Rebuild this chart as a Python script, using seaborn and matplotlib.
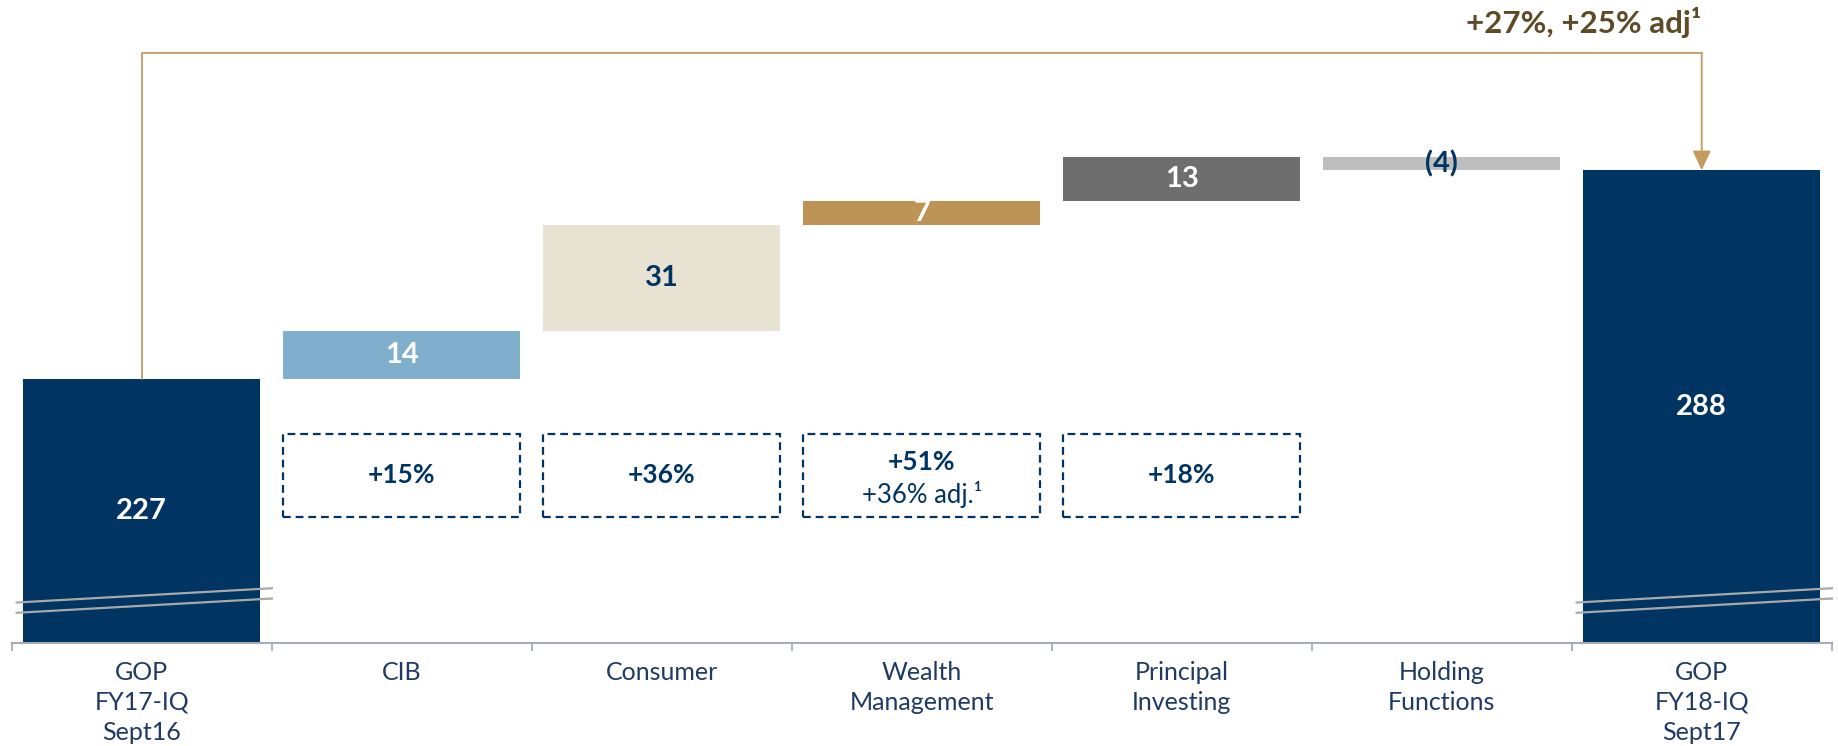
import numpy as np
import pandas as pd
import matplotlib
matplotlib.use("Agg")
import matplotlib.pyplot as plt
from matplotlib.patches import Rectangle
import seaborn as sns

# data
categories = ["GOP\nFY17-IQ\nSept16", "CIB", "Consumer", "Wealth\nManagement",
              "Principal\nInvesting", "Holding\nFunctions", "GOP\nFY18-IQ\nSept17"]
start_total = 227
changes = [14, 31, 7, 13, -4]
end_total = 288
growth_categories = ["CIB", "Consumer", "Wealth\nManagement", "Principal\nInvesting"]
growth_labels = ["+15%", "+36%", "+51%", "+18%"]
growth_notes = ["", "", "+36% adj.\u00b9", ""]
headline = "+27%, +25% adj\u00b9"

# colours
navy = "#003462"
bar_colors = [navy, "#7FAFCD", "#E7E2D1", "#BD9455", "#6E6E6E", "#BEBEBE", navy]
label_colors = ["white", "white", navy, "white", "white", navy, "white"]
gold_line = "#C39B5F"
axis_grey = "#A7ABB6"
text_navy = "#1F3B64"

sns.set_style("white")
plt.rcParams["font.family"] = ["Lato", "DejaVu Sans"]

# waterfall geometry
bottoms = [0]
heights = [start_total]
running = start_total
for c in changes:
    bottoms.append(min(running, running + c))
    heights.append(abs(c))
    running += c
bottoms.append(0)
heights.append(end_total)
value_labels = [str(start_total)] + [str(c) if c >= 0 else f"({-c})" for c in changes] + [str(end_total)]

df = pd.DataFrame({"category": categories, "height": heights, "bottom": bottoms})

fig = plt.figure(figsize=(18.38, 7.46), dpi=100)
ax = fig.add_axes([11.7 / 1838, 103 / 746, 1820 / 1838, 643 / 746])

bar_w = 0.91
sns.barplot(data=df, x="category", y="height", bottom=df["bottom"].to_numpy(),
            width=bar_w, errorbar=None, color=navy, saturation=1, ax=ax)
for p, c in zip(ax.patches, bar_colors):
    p.set_facecolor(c)
    p.set_edgecolor("none")

y_low, y_high = 150, 337.7
ax.set_xlim(-0.5, len(categories) - 0.5)
ax.set_ylim(y_low, y_high)
ax.set_xlabel("")
ax.set_ylabel("")
ax.set_yticks([])
for s in ["top", "left", "right"]:
    ax.spines[s].set_visible(False)
ax.spines["bottom"].set_color(axis_grey)
ax.spines["bottom"].set_linewidth(1.5)
ax.set_xticks(np.arange(len(categories)))
ax.set_xticklabels(categories, fontsize=18, color=text_navy, linespacing=1.36)
ax.set_xticks(np.arange(len(categories) + 1) - 0.5, minor=True)
ax.tick_params(axis="x", which="major", bottom=True, length=0, pad=13)
ax.tick_params(axis="x", which="minor", bottom=True, length=5.5, width=1.3,
               color=axis_grey, direction="out")

# value labels
for i, (b, h) in enumerate(zip(bottoms, heights)):
    yc = (max(b, y_low) + b + h) / 2
    ax.text(i, yc, value_labels[i], ha="center", va="center", fontsize=21,
            fontweight="bold", color=label_colors[i])

# axis break marks on the total bars
for i in [0, len(categories) - 1]:
    for y0 in [161.8, 158.8]:
        ax.plot([i - 0.485, i + 0.505], [y0, y0 + 4.2], color="#A8A8A8", lw=1.6,
                solid_capstyle="butt", zorder=5, clip_on=False)

# growth boxes
box_lo, box_hi = 186.8, 211.1
for cat, lab, note in zip(growth_categories, growth_labels, growth_notes):
    i = categories.index(cat)
    ax.add_patch(Rectangle((i - bar_w / 2, box_lo), bar_w, box_hi - box_lo, fill=False,
                           edgecolor=navy, lw=1.6, ls=(0, (3.5, 2.2))))
    if note:
        ax.text(i, 202.8, lab, ha="center", va="center", fontsize=19,
                fontweight="bold", color=navy)
        ax.text(i, 193.3, note, ha="center", va="center", fontsize=18.5, color=navy)
    else:
        ax.text(i, (box_lo + box_hi) / 2, lab, ha="center", va="center", fontsize=19,
                fontweight="bold", color=navy)

# bracket arrow from start total to end total
last = len(categories) - 1
bracket_y = 322.3
ax.plot([0, 0, last], [start_total, bracket_y, bracket_y], color=gold_line, lw=1.3,
        solid_joinstyle="miter")
ax.annotate("", xy=(last, end_total), xytext=(last, bracket_y),
            arrowprops=dict(arrowstyle="-|>,head_length=0.6,head_width=0.28",
                            color=gold_line, lw=1.3, shrinkA=0, shrinkB=0,
                            mutation_scale=20))
ax.text(last, 331.0, headline, ha="right", va="center", fontsize=22.5,
        fontweight="bold", color="#5E4A26")

fig.savefig("out.png", dpi=100)
